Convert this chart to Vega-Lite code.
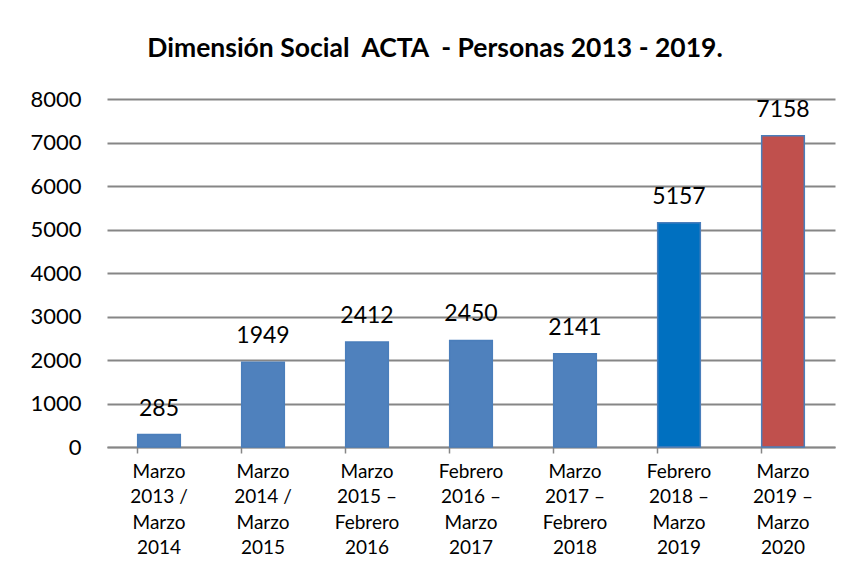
{
  "$schema": "https://vega.github.io/schema/vega-lite/v6.json",
  "autosize": "none",
  "width": 728,
  "height": 348,
  "padding": {"left": 107, "top": 99, "right": 12, "bottom": 130},
  "background": "white",
  "title": {
    "text": "Dimensión Social\u00a0 ACTA\u00a0 - Personas 2013 - 2019.",
    "font": "Lato",
    "fontSize": 26.5,
    "fontWeight": "bold",
    "color": "#000000",
    "anchor": "middle",
    "frame": "group",
    "dx": -36,
    "offset": 26
  },
  "data": {
    "values": [
      {"periodo": "Marzo|2013 /|Marzo|2014", "personas": 285},
      {"periodo": "Marzo|2014 /|Marzo|2015", "personas": 1949},
      {"periodo": "Marzo|2015 –|Febrero|2016", "personas": 2412},
      {"periodo": "Febrero|2016 –|Marzo|2017", "personas": 2450},
      {"periodo": "Marzo|2017 –|Febrero|2018", "personas": 2141},
      {"periodo": "Febrero|2018 –|Marzo|2019", "personas": 5157},
      {"periodo": "Marzo|2019 –|Marzo|2020", "personas": 7158}
    ]
  },
  "encoding": {
    "x": {
      "field": "periodo",
      "type": "nominal",
      "sort": null,
      "scale": {"paddingInner": 0.59, "paddingOuter": 0.295},
      "axis": {
        "title": null,
        "labelAngle": 0,
        "labelExpr": "split(datum.value, '|')",
        "labelFont": "Lato",
        "labelFontSize": 19,
        "labelColor": "#000000",
        "labelLineHeight": 25.5,
        "labelPadding": 9,
        "labelBaseline": "top",
        "domainColor": "#868686",
        "domainWidth": 1.5,
        "tickColor": "#868686",
        "tickWidth": 1.5,
        "tickSize": 6,
        "bandPosition": 0,
        "grid": false
      }
    },
    "y": {
      "field": "personas",
      "type": "quantitative",
      "scale": {"domain": [0, 8000], "nice": false},
      "axis": {
        "title": null,
        "values": [0, 1000, 2000, 3000, 4000, 5000, 6000, 7000, 8000],
        "format": "d",
        "labelFont": "Lato",
        "labelFontSize": 22,
        "labelColor": "#000000",
        "labelPadding": 26,
        "domain": false,
        "ticks": false,
        "grid": true,
        "gridColor": "#868686",
        "gridWidth": 1.8
      }
    }
  },
  "layer": [
    {
      "mark": {"type": "bar", "stroke": "#4a7ebb", "strokeWidth": 1.5},
      "encoding": {
        "color": {
          "field": "periodo",
          "type": "nominal",
          "sort": null,
          "legend": null,
          "scale": {
            "domain": [
              "Marzo|2013 /|Marzo|2014",
              "Marzo|2014 /|Marzo|2015",
              "Marzo|2015 –|Febrero|2016",
              "Febrero|2016 –|Marzo|2017",
              "Marzo|2017 –|Febrero|2018",
              "Febrero|2018 –|Marzo|2019",
              "Marzo|2019 –|Marzo|2020"
            ],
            "range": ["#4f81bd", "#4f81bd", "#4f81bd", "#4f81bd", "#4f81bd", "#0070c0", "#c0504d"]
          }
        }
      }
    },
    {
      "mark": {"type": "text", "baseline": "bottom", "dy": -14, "font": "Lato", "fontSize": 23, "color": "#000000"},
      "encoding": {"text": {"field": "personas", "type": "quantitative", "format": "d"}}
    }
  ],
  "config": {"view": {"stroke": null}}
}
